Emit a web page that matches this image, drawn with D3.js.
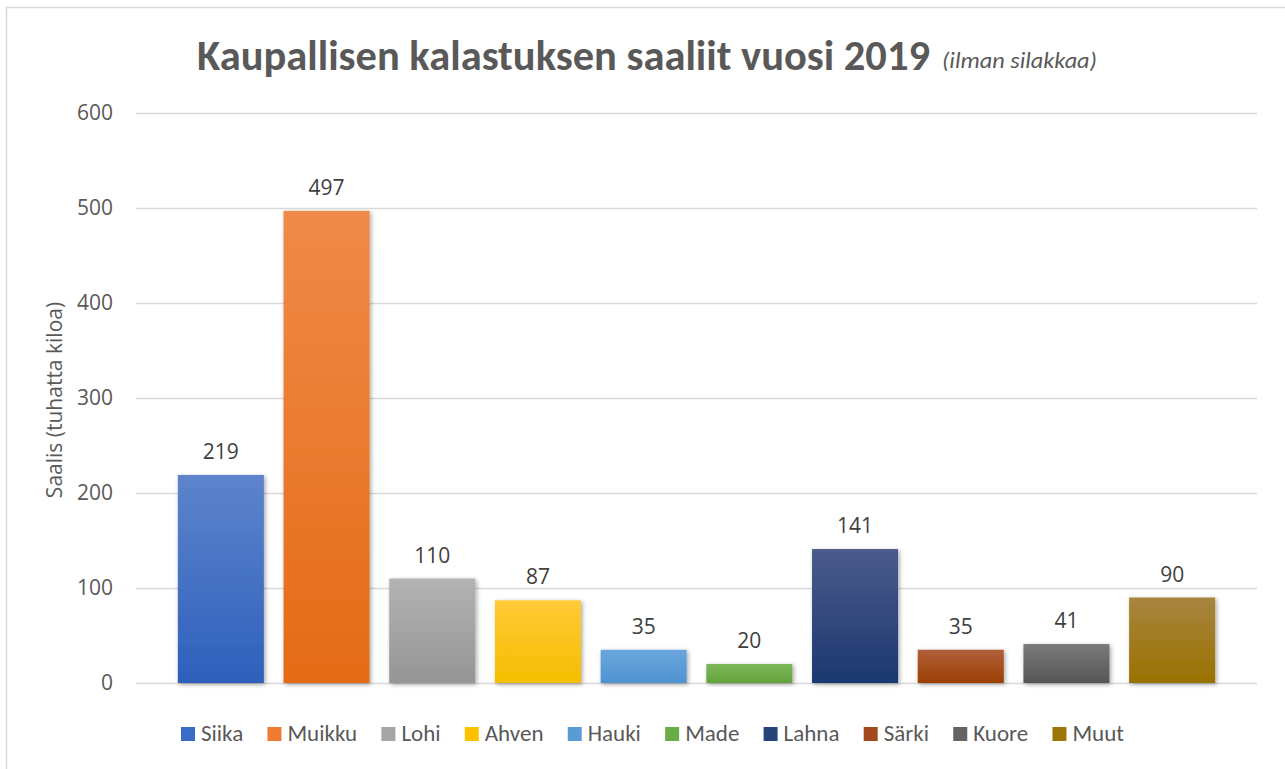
<!DOCTYPE html>
<html><head><meta charset="utf-8">
<script src="https://cdn.jsdelivr.net/npm/d3@7"></script>
<style>body{margin:0;background:#fff;}svg{display:block;}</style>
</head><body>
<svg id="c" width="1285" height="769"></svg>
<script>
const categories = ["Siika","Muikku","Lohi","Ahven","Hauki","Made","Lahna","Särki","Kuore","Muut"];
const values = [219,497,110,87,35,20,141,35,41,90];
const yTicks = [0,100,200,300,400,500,600];
const colorsTop = ["#5d84cc","#f08a48","#b3b3b3","#ffca36","#6aa6dc","#7fb85a","#4a5b8b","#b0603c","#7a7a7a","#a8853f"];
const colorsBottom = ["#2e60bc","#e46b17","#959595","#f5bd00","#4f93d2","#63a33c","#1b376f","#9c3f02","#565656","#997100"];
const legendColors = ["#3a6bc6","#ef7a32","#a5a5a5","#fcc200","#5b9bd5","#6aac46","#26447a","#a2481a","#636363","#9c7708"];
const titleText = "Kaupallisen kalastuksen saaliit vuosi 2019";
const subtitleText = "(ilman silakkaa)";
const yTitle = "Saalis (tuhatta kiloa)";

const svg = d3.select("#c");
const narrow = "Carlito, Calibri, Lato, sans-serif";
const body = "'Open Sans', 'Noto Sans', sans-serif";

svg.append("rect").attr("x",6.5).attr("y",7.5).attr("width",1300).attr("height",800)
  .attr("fill","#fff").attr("stroke","#d9d9d9").attr("stroke-width",1.5);

const defs = svg.append("defs");
const f = defs.append("filter").attr("id","sh").attr("x","-20%").attr("y","-20%").attr("width","140%").attr("height","140%");
f.append("feDropShadow").attr("dx",1.5).attr("dy",1.5).attr("stdDeviation",2).attr("flood-color","#000").attr("flood-opacity",0.35);
categories.forEach((c,i)=>{
  const g = defs.append("linearGradient").attr("id","g"+i).attr("x1",0).attr("y1",0).attr("x2",0).attr("y2",1);
  g.append("stop").attr("offset","0%").attr("stop-color",colorsTop[i]);
  g.append("stop").attr("offset","100%").attr("stop-color",colorsBottom[i]);
});

const x = d3.scaleBand().domain(categories).range([168,1225]).paddingInner(0.186).paddingOuter(0.093);
const y = d3.scaleLinear().domain([0,600]).range([683,113]);

// gridlines
const yAxis = d3.axisLeft(y).tickValues(yTicks).tickSize(-(1257-136)).tickPadding(23);
const ga = svg.append("g").attr("transform","translate(136,0)").call(yAxis);
ga.select(".domain").remove();
ga.selectAll(".tick line").attr("stroke","#d9d9d9").attr("stroke-width",1.5);
ga.selectAll(".tick text").attr("fill","#595959").style("font-family",body).style("font-size","21px");

// bars
svg.append("g").selectAll("rect").data(values).join("rect")
  .attr("x",(d,i)=>x(categories[i]))
  .attr("y",d=>y(d))
  .attr("width",x.bandwidth())
  .attr("height",d=>y(0)-y(d))
  .attr("fill",(d,i)=>`url(#g${i})`)
  .attr("filter","url(#sh)");

// labels
svg.append("g").selectAll("text").data(values).join("text")
  .attr("x",(d,i)=>x(categories[i])+x.bandwidth()/2)
  .attr("y",d=>y(d)-16)
  .attr("text-anchor","middle")
  .attr("fill","#404040").style("font-family",body).style("font-size","21px")
  .text(d=>d);

// y title
svg.append("text").attr("transform","translate(62,400) rotate(-90)")
  .attr("text-anchor","middle").attr("fill","#595959")
  .style("font-family",body).style("font-size","21px").text(yTitle);

// title
svg.append("text").attr("x",197).attr("y",70).attr("fill","#595959")
  .style("font-family",narrow).style("font-size","43px").style("font-weight","bold")
  .text(titleText).attr("textLength",733).attr("lengthAdjust","spacingAndGlyphs");
svg.append("text").attr("x",942).attr("y",68).attr("fill","#595959")
  .style("font-family",narrow).style("font-size","23px").style("font-style","italic")
  .text(subtitleText).attr("textLength",155).attr("lengthAdjust","spacingAndGlyphs");

// legend
const lg = svg.append("g");
const items = lg.selectAll("g").data(categories).join("g");
items.append("rect").attr("y",-14).attr("width",14).attr("height",14).attr("fill",(d,i)=>legendColors[i]);
items.append("text").attr("x",20).attr("y",0).attr("fill","#595959")
  .style("font-family",narrow).style("font-size","23px").text(d=>d);
const widths = [];
items.each(function(){ widths.push(20 + d3.select(this).select("text").node().getComputedTextLength()); });
const sumW = d3.sum(widths);
const gap = (1124 - 181 - sumW) / (categories.length - 1);
let lx = 181;
items.each(function(d,i){
  d3.select(this).attr("transform",`translate(${lx},741)`);
  lx += widths[i] + gap;
});
</script>
</body></html>
